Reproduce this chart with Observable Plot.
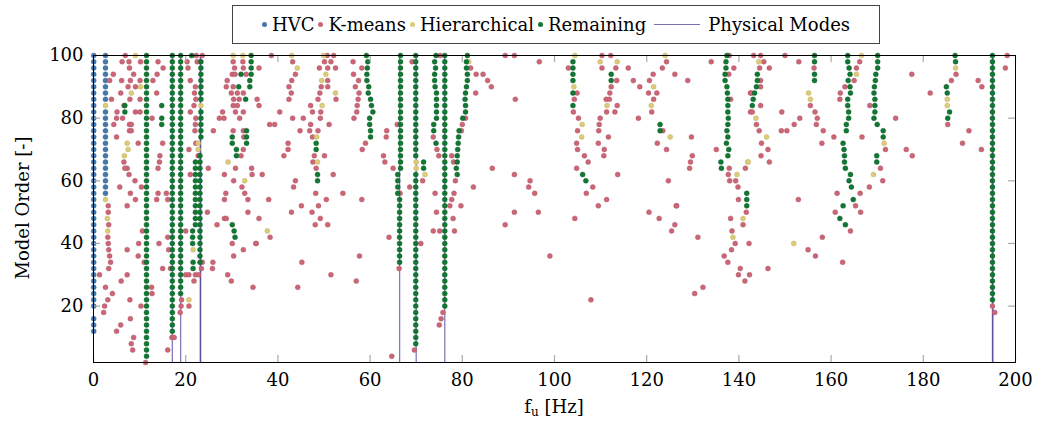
<!DOCTYPE html>
<html>
<head>
<meta charset="utf-8">
<script src="https://cdn.jsdelivr.net/npm/d3@7"></script>
<script src="https://cdn.jsdelivr.net/npm/@observablehq/plot@0.6"></script>
<style>
  html, body { margin: 0; padding: 0; background: white; }
  #wrap { position: relative; width: 1038px; height: 430px; font-family: "DejaVu Serif", serif; color: #000; }
  #legend { position: absolute; left: 232px; top: 5px; width: 648px; height: 39px; box-sizing: border-box;
            border: 1px solid #444; display: flex; align-items: center; justify-content: center; font-size: 18px; white-space: nowrap; }
  #legend .it { display: flex; align-items: center; margin: 0 2px; }
  #legend .dot { width: 5px; height: 5px; border-radius: 50%; margin-right: 5px; }
  #legend .ln { width: 46px; height: 0; border-top: 1.4px solid rgba(51,34,136,0.65); margin: 0 8px 0 4px; }
  #xlab { position: absolute; left: 0; width: 1108px; top: 396px; text-align: center; font-size: 18px; }
  #ylab { position: absolute; left: 22px; top: 208px; font-size: 18px; transform: translate(-50%, -50%) rotate(-90deg); white-space: nowrap; }
  sub { font-size: 12px; vertical-align: -3px; }
</style>
</head>
<body>
<div id="wrap">
  <div id="chart"></div>
  <div id="legend"></div>
  <div id="xlab">f<sub>u</sub> [Hz]</div>
  <div id="ylab">Model Order [-]</div>
</div>
<script>
// ---------- data (frequency in Hz, model order) ----------
const seriesNames = ["HVC", "K-means", "Hierarchical", "Remaining", "Physical Modes"];
const seriesColors = ["#4477AA", "#CC6677", "#DDCC77", "#117733", "#332288"];
const xTicks = [0, 20, 40, 60, 80, 100, 120, 140, 160, 180, 200];
const yTicks = [20, 40, 60, 80, 100];
const physicalModes = [17.1, 18.9, 23.15, 23.25, 66.4, 70.0, 76.2, 195.0, 195.1];

// columns: [frequency, [orders]]
const hvcColumns = [
  [0.05, [12,14,16,20,22,24,26,28,30,32,34,36,38,40,42,44,46,48,50,52,54,56,58,60,62,64,66,68,70,72,74,76,78,80,82,84,86,88,90,92,94,96,98,100]],
  [2.6, [56,58,60,62,64,66,68,70,72,74,76,78,80,82,86,88,90,92,94,96,98,100]]
];

const remainingColumns = [
  [11.5, [4,6,8,10,12,14,16,18,20,22,24,26,28,30,32,34,36,38,40,42,44,46,48,50,52,54,56,58,60,62,64,66,68,70,72,74,76,78,80,82,84,86,88,90,92,94,96,98,100]],
  [17.1, [12,14,16,18,20,22,24,26,28,30,32,34,36,38,40,42,44,46,48,50,52,54,56,58,60,62,64,66,68,70,72,74,76,78,80,82,84,86,88,90,92,94,96,98,100]],
  [18.9, [24,26,28,30,32,34,36,38,40,42,44,46,48,50,52,54,56,58,60,62,64,66,68,70,72,74,76,78,80,82,84,86,88,90,92,94,96,98,100]],
  [23.3, [74,76,78,80,82,86,88,90,92,94,96,98]],
  [23.1, [34,36,38,40,42,44,46,48,50,52,54,56,58,60,62,64,66,68]],
  [22.1, [46,48,50,52,54,56,58,60,62,64,66]],
  [21.5, [40,42,44]],
  [21.6, [32,34]],
  [34.2, [94,96,98,100]],
  [33.9, [90,92]],
  [6.8, [82,84]],
  [14.8, [78,80,84]],
  [48.3, [70,72]],
  [48.6, [60,62]],
  [66.6, [64,66,68,70,72,74,76,78,80,82,84,86,88,90,92,94,96,98,100]],
  [66.0, [56,58,60,62]],
  [66.4, [34,36,38,40,42,44,46,48,50,52,54]],
  [69.9, [8,10,12,14,16,18,20,22,24,26,28,30,32,34,36,38,40,42,44,46,48,50,52,54,56,58,60,62,68,70,72,74,76,78,80,82,84,86,88,90,92,94,96,98,100]],
  [71.6, [64,66]],
  [76.2, [20,22,24,26,28,30,32,34,36,38,40,42,44,46,48,50,52,54,56,58,60,62,64,66,68,70,72,74,76,78,80,82,84,86,88,90,92,94,96,98,100]],
  [104.0, [84,88,92,94,96,98]],
  [112.3, [92,94]],
  [122.9, [76,78]],
  [141.7, [52,54,56]],
  [156.4, [92,94,98,100]],
  [195.0, [22,24,26,28,30,32,34,36,38,40,42,44,46,48,50,52,54,56,58,60,62,64,66,68,70,72,74,76,78,80,82,84,86,88,90,92,94,96,98,100]]
];

// individual points: [frequency, order]
const remainingPoints = [
  [59.2,100],[59.5,98],[59.4,96],[59.3,94],[59.3,92],[59.7,90],[59.6,88],[60.1,86],[60.3,84],[60.6,82],[59.9,80],[59.9,78],[60.1,76],[60.1,74],
  [74.3,100],[74.0,98],[74.2,96],[74.0,94],[74.0,92],[74.1,90],[74.4,88],[74.4,86],[74.4,84],[74.4,82],[74.4,80],[73.8,78],[73.8,76],[74.3,72],
  [81.1,100],[80.9,98],[80.9,96],[81.1,94],[81.1,92],[80.9,90],[80.7,88],[80.6,86],[80.7,84],[80.7,82],[80.1,80],[79.3,76],[79.2,74],[79.1,72],[79.0,70],[78.9,68],[78.9,66],[78.7,64],[78.9,62],
  [137.4,100],[137.2,98],[137.2,96],[137.0,94],[137.0,92],[137.4,90],[137.5,88],[137.6,86],[137.6,84],[137.6,82],[137.7,80],[137.6,78],[137.4,76],[137.6,74],[137.3,72],[137.8,70],[137.6,68],[136.1,66],[136.2,64],
  [144.0,94],[144.0,92],[143.8,90],[143.4,88],[143.1,86],[142.9,84],
  [163.6,100],[163.6,98],[163.9,96],[164.1,94],[163.7,92],[164.1,90],[164.2,88],[163.6,86],[163.6,84],[163.8,82],[163.8,80],[163.3,78],[163.3,76],[162.6,72],[162.8,70],[162.9,68],[162.9,66],[163.1,64],[164.2,62],[163.9,60],[164.4,58],[164.8,54],[162.6,52],[161.9,48],[163.1,46],
  [170.1,100],[170.1,98],[170.1,96],[169.7,94],[169.6,92],[169.4,90],[169.3,88],[169.5,86],[169.5,84],[169.5,82],[169.3,80],[170.0,78],[171.3,76],[171.3,74],[169.9,68],[169.9,66],
  [186.9,100],[187.0,98],[185.0,90],[185.2,88],[185.7,82],[185.3,80],
  [21.3,100],[32.0,94],[31.5,90],[33.0,86],[33.2,76],[33.2,74],[33.2,72],[30.1,74],[30.1,72],[31.0,70],[31.0,68],
  [30.1,46],[30.5,44],[30.7,42],[106.1,62],[106.8,60]
];

const hierarchicalPoints = [
  [2.6,84],[2.6,54],[3.0,48],[3.1,44],[9.1,100],[10.2,90],[8.2,88],[7.3,72],[7.5,70],[6.7,68],[29.2,66],[32.8,60],
  [23.3,84],[22.7,72],[22.7,70],[30.3,100],[32.4,100],[21.6,38],[20.7,22],
  [43.0,100],[44.2,96],[49.9,100],[50.4,94],[49.5,92],[52.5,88],[49.6,84],[48.4,74],[48.6,66],[70.0,66],[70.0,64],[71.9,62],[81.4,98],[37.7,44],
  [104.4,100],[104.2,90],[106.0,78],[105.9,74],[109.9,98],[113.6,98],[111.4,84],[124.0,100],[121.5,90],[121.0,84],[125.1,74],[139.6,62],[141.9,66],[140.9,48],[138.7,42],
  [144.3,98],[166.6,100],[165.5,94],[155.1,88],[155.5,86],[143.7,80],[146.0,74],[142.0,66],[171.5,72],[169.2,62],[187.0,96],[185.2,86],[185.2,84],[151.9,40]
];

const kmeansPoints = [
  // 0-35 Hz, upper
  [6.9,100],[6.2,98],[7.7,98],[10.2,98],[7.8,96],[8.7,94],[4.3,94],[3.5,92],[6.1,92],[8.0,92],[10.1,92],[7.5,90],[9.1,90],[5.9,88],[3.9,86],[7.9,86],[10.1,86],
  [6.6,84],[5.1,82],[9.1,82],[10.1,82],[5.0,80],[6.3,80],[7.8,78],[8.2,78],[4.4,78],[7.8,76],[8.2,76],[5.0,74],[9.7,72],[6.6,66],[7.3,64],[6.8,64],[7.7,62],[9.0,60],[5.7,58],[10.4,58],[8.0,56],[9.1,54],[7.3,52],
  [14.0,98],[12.9,92],[13.7,88],[15.1,96],[13.8,94],[12.7,80],[15.0,72],[14.4,68],[14.0,64],[14.0,56],[13.7,54],[15.8,56],[16.1,54],[14.3,66],
  [20.3,98],[20.5,96],[21.0,92],[22.1,90],[21.9,88],[22.2,86],[21.8,84],[21.0,82],[22.2,80],[22.1,78],[22.0,76],[22.2,72],[20.7,70],[22.7,68],[21.0,62],[24.9,64],[22.3,100],[23.6,100],[22.5,98],
  [27.3,80],[26.0,76],[28.0,82],[28.3,80],[29.0,92],[28.8,90],[29.9,88],[30.4,86],[30.3,84],[31.2,84],[30.8,82],[32.5,82],[31.7,80],[30.3,76],[32.5,76],[32.6,74],[32.5,70],[32.0,68],
  [30.3,98],[32.4,98],[30.6,96],[32.5,96],[30.1,94],[30.7,94],[33.1,94],[30.3,90],[31.2,88],[32.5,88],[31.6,86],[30.8,64],[34.3,64],[28.4,62],[34.4,62],[30.4,60],[32.2,58],[32.8,56],[28.7,56],[28.4,54],[33.5,54],
  // 0-35 Hz, lower
  [3.2,52],[3.2,50],[3.3,46],[3.1,42],[3.2,40],[3.3,38],[3.5,36],[3.7,34],[3.3,32],[2.4,20],[2.2,18],[1.3,30],[2.6,26],[4.1,24],[3.1,22],[6.0,28],[7.3,30],[7.9,22],[8.0,16],[5.9,14],[5.0,12],[8.7,10],[8.2,8],[8.5,6],
  [10.6,44],[10.3,20],[9.8,40],[7.3,38],[9.7,36],[11.0,34],[12.6,26],[12.7,24],[14.2,40],[15.0,32],[11.3,2],[16.1,42],[16.3,38],[16.7,32],[16.1,6],[17.0,10],[17.5,10],
  [19.1,22],[19.0,20],[18.8,18],[20.0,44],[20.0,30],[20.7,30],[20.7,20],[21.8,28],[22.1,30],[23.6,34],[25.9,34],[23.4,32],[22.8,30],[25.8,32],[26.8,46],[28.4,48],[28.8,48],[29.1,30],[29.9,28],[30.1,40],[30.4,36],[32.5,38],[33.5,50],[35.3,40],[34.6,26],[24.7,50],
  // 35-88 Hz
  [38.6,100],[35.9,96],[35.5,86],[35.9,84],[40.4,82],[38.2,78],[39.3,78],[42.2,72],[42.2,70],[41.3,68],[36.6,62],[38.0,54],[43.2,98],[43.8,94],[43.0,92],[42.4,90],[42.9,88],[42.4,86],[43.2,80],[45.5,80],[44.8,76],[43.8,60],[43.4,58],[45.1,52],
  [50.7,100],[52.1,100],[50.1,98],[51.5,98],[49.0,96],[50.8,96],[52.5,96],[50.8,92],[50.8,90],[49.4,90],[49.1,88],[48.7,86],[52.6,86],[47.1,84],[47.5,82],[49.3,82],[49.2,80],[47.1,78],[51.1,78],[46.9,76],[48.7,76],[47.5,74],[47.9,68],[50.1,68],[47.6,66],[48.3,64],[52.0,62],[48.2,56],[54.1,56],[48.8,52],[50.5,54],
  [56.3,98],[58.2,96],[56.4,94],[57.5,92],[56.8,90],[57.6,88],[57.4,86],[57.2,84],[57.1,82],[56.5,80],[63.6,76],[63.5,74],[59.0,72],[58.3,70],[62.9,68],[63.2,66],[65.0,64],[58.2,54],[69.1,98],[65.9,78],[68.6,58],[66.5,56],
  [75.2,100],[73.7,74],[74.5,70],[74.9,68],[77.7,68],[78.1,66],[78.5,60],[78.2,56],[77.7,54],[77.3,52],[79.7,52],[82.4,58],[86.5,64],[81.8,96],[83.0,94],[84.5,94],[85.5,92],[86.3,90],[82.9,88],[80.7,80],[80.0,78],[79.8,76],[71.4,60],[74.1,56],
  [74.4,50],[78.0,48],[73.7,44],[75.1,44],[78.3,44],[71.0,40],[75.8,18],[75.4,16],[75.0,14],[42.95,50],[47.4,50],[49.2,48],[48.1,46],[50.8,46],[35.9,48],[38.3,42],[35.2,40],[45.2,34],[51.5,30],[44.3,26],[57.7,36],[57.0,28],[64.1,42],[66.3,32],[64.7,4],[69.6,6],
  // 88-142 Hz
  [89.3,100],[91.3,100],[96.7,98],[91.5,86],[103.0,96],[104.9,88],[104.3,86],[104.1,82],[105.2,80],[105.0,76],[104.8,72],[105.0,70],[106.5,68],[107.3,66],[104.8,64],[108.3,58],[106.9,56],[109.5,52],[111.3,54],
  [110.3,100],[112.2,100],[110.3,96],[113.3,96],[116.0,96],[113.5,92],[112.3,90],[112.0,88],[111.2,86],[111.9,86],[113.6,84],[111.3,82],[113.1,82],[109.9,80],[109.7,78],[109.6,76],[111.7,74],[109.5,72],[110.8,70],[110.7,68],[113.7,62],
  [91.3,62],[94.7,60],[94.4,58],[95.7,56],[124.3,98],[123.4,96],[121.4,94],[126.1,94],[117.1,92],[120.6,92],[128.9,92],[118.5,90],[120.4,88],[122.2,88],[121.5,86],[121.1,82],[118.2,80],[123.5,76],[129.7,74],[122.3,72],[124.3,70],[129.9,68],[129.5,66],[129.3,64],[124.7,60],[126.4,52],
  [134.0,98],[137.9,100],[138.9,96],[137.8,94],[138.2,86],[135.1,70],[141.4,64],[137.9,64],[137.7,62],[139.3,60],[138.0,60],[139.8,58],[139.9,54],[142.5,88],[142.5,82],
  [89.3,46],[91.3,50],[96.5,50],[99.0,36],[104.4,48],[107.9,22],[120.5,50],[122.7,48],[126.5,52],[126.1,46],[125.4,44],[131.1,42],[130.4,24],[132.2,26],[136.8,36],[137.6,34],[138.2,48],[138.5,44],[139.2,40],[138.4,38],[139.9,30],[140.3,32],[141.3,28],[141.6,50],[140.9,46],[142.2,40],[142.3,30],
  // 142-200 Hz
  [146.3,32],[155.0,38],[156.6,36],[158.1,42],[162.5,34],[165.3,52],[166.4,50],[160.9,50],[164.2,44],[152.9,54],[195.0,20],[195.5,18],
  [143.2,100],[144.7,100],[150.0,100],[198.2,100],[153.0,98],[145.4,98],[144.5,96],[146.6,96],[156.3,96],[165.5,96],[166.2,98],[165.0,92],[197.8,96],[177.5,94],[144.7,92],[144.7,90],[142.7,88],[162.0,88],[161.9,86],
  [191.9,92],[192.7,90],[181.5,88],[163.0,90],[144.7,84],[142.9,82],[149.3,82],[155.5,84],[156.5,82],[157.0,80],[156.8,78],[153.2,80],[152.0,78],[149.2,76],[150.4,76],[158.3,76],[160.6,74],[166.7,74],[158.0,72],
  [168.4,84],[174.0,80],[185.3,78],[189.9,76],[188.5,72],[192.6,70],[176.3,70],[177.6,68],[171.8,70],[143.8,78],[144.4,76],[144.9,72],[146.3,70],[144.8,68],[146.6,66],[170.7,64],[171.2,60],[168.3,58],[166.3,56],[161.3,56],[186.1,92],[187.1,94]
];

// ---------- build table ----------
function fromColumns(cols, s) {
  const out = [];
  for (const [f, orders] of cols) for (const o of orders) out.push({f, o, s});
  return out;
}
function fromPoints(pts, s) { return pts.map(([f, o]) => ({f, o, s})); }

const hvc = fromColumns(hvcColumns, "HVC");
const kmeans = fromPoints(kmeansPoints, "K-means");
const hier = fromPoints(hierarchicalPoints, "Hierarchical");
const remaining = [...fromColumns(remainingColumns, "Remaining"), ...fromPoints(remainingPoints, "Remaining")];

const W = 1038, H = 430, mL = 93, mR = 23, mT = 55, mB = 68;
const fw = W - mL - mR, fh = H - mT - mB, tl = 7;
const R = 2.5;

const chart = Plot.plot({
  width: W, height: H,
  marginLeft: mL, marginRight: mR, marginTop: mT, marginBottom: mB,
  x: {domain: [0, 200]},
  y: {domain: [2, 100]},
  style: {fontFamily: "'DejaVu Serif', serif", fontSize: "18px", background: "white", color: "black", overflow: "visible"},
  marks: [
    Plot.ruleX(physicalModes, {x: d => d, stroke: seriesColors[4], strokeOpacity: 0.6, strokeWidth: 1.3}),
    Plot.dot(hvc, {x: "f", y: "o", r: R, fill: seriesColors[0], stroke: "#3a6690", strokeWidth: 0.4}),
    Plot.dot(kmeans, {x: "f", y: "o", r: R, fill: seriesColors[1], stroke: "#a85563", strokeWidth: 0.4}),
    Plot.dot(hier, {x: "f", y: "o", r: R, fill: seriesColors[2], stroke: "#b8a962", strokeWidth: 0.4}),
    Plot.dot(remaining, {x: "f", y: "o", r: R, fill: seriesColors[3], stroke: "#0c5a26", strokeWidth: 0.4}),
    Plot.tickX(xTicks, {x: d => d, stroke: "#aaa", strokeWidth: 1.2, insetTop: fh - tl}),
    Plot.tickX(xTicks, {x: d => d, stroke: "#aaa", strokeWidth: 1.2, insetBottom: fh - tl}),
    Plot.tickY(yTicks, {y: d => d, stroke: "#aaa", strokeWidth: 1.2, insetRight: fw - tl}),
    Plot.tickY(yTicks, {y: d => d, stroke: "#aaa", strokeWidth: 1.2, insetLeft: fw - tl}),
    Plot.frame({stroke: "black", strokeWidth: 1}),
    Plot.axisX({ticks: xTicks, tickSize: 0, tickPadding: 11, label: null, fontSize: 18}),
    Plot.axisY({ticks: yTicks, tickSize: 0, tickPadding: 10, label: null, fontSize: 18})
  ]
});
document.getElementById("chart").appendChild(chart);

// legend
const legend = document.getElementById("legend");
seriesNames.forEach((name, i) => {
  const it = document.createElement("div");
  it.className = "it";
  const mark = document.createElement("span");
  if (i < 4) { mark.className = "dot"; mark.style.background = seriesColors[i]; }
  else { mark.className = "ln"; }
  it.appendChild(mark);
  const t = document.createElement("span");
  t.textContent = name;
  it.appendChild(t);
  legend.appendChild(it);
});
</script>
</body>
</html>
